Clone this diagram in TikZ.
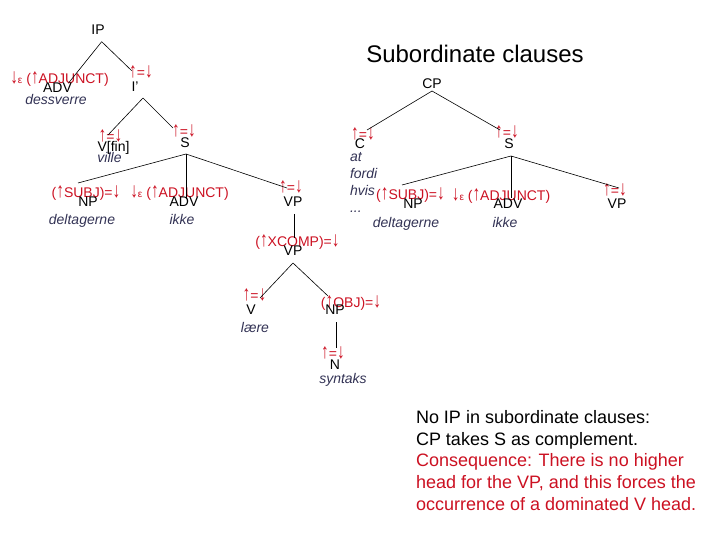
\documentclass[tikz,border=0pt]{standalone}
\usepackage{fontspec}
\usepackage{graphicx}
\setmainfont{Liberation Sans}
\usetikzlibrary{calc}
\definecolor{annred}{RGB}{204,17,34}
\definecolor{wordblue}{RGB}{51,51,85}
\newcommand\smeps{{\fontsize{10}{10}\selectfont ε}}
\newcommand\upa{\scalebox{1.1}[1.5]{↑}}
\newcommand\dna{\scalebox{1.1}[1.5]{↓}}
\begin{document}
\begin{tikzpicture}[x=1pt,y=-1pt,
  every node/.style={inner sep=0pt,outer sep=0pt},
  cat/.style={font=\fontsize{14}{14}\selectfont, text height=10pt, text depth=0pt},
  ann/.style={font=\fontsize{14}{14}\selectfont, text=annred, text height=10pt, text depth=0pt},
  word/.style={font=\fontsize{14}{14}\selectfont\itshape, text=wordblue, text height=10pt, text depth=0pt},
  edge/.style={draw=black, line width=0.6pt}]
\useasboundingbox[fill=white] (0,0) rectangle (720,540);

% ---------- left tree ----------
\node[cat] (IP) at (98,30) {IP};
\node[ann] (aADV1) at (59.5,79) {\dna\smeps\ (\upa ADJUNCT)};
\node[cat] (ADV1) at (57.5,88) {ADV};
\node[word] (wdess) at (56,100) {dessverre};
\node[ann] (aIbar) at (141,73) {\upa=\dna};
\node[cat] (Ibar) at (135,87) {I'};
\node[ann] (aVfin) at (110.5,137) {\upa=\dna};
\node[cat] (Vfin) at (113.5,147) {V[fin]};
\node[word] (wville) at (109.5,158) {ville};
\node[ann] (aS1) at (184,132) {\upa=\dna};
\node[cat] (S1) at (185,143) {S};
\node[ann] (aSUBJ1) at (86,193) {(\upa SUBJ)=\dna};
\node[cat] (NP1) at (88,202) {NP};
\node[word] (wdelt1) at (82,220) {deltagerne};
\node[ann] (aADV2) at (179.5,193) {\dna\smeps\ (\upa ADJUNCT)};
\node[cat] (ADV2) at (184,202) {ADV};
\node[word] (wikke1) at (182,220) {ikke};
\node[ann] (aVP1) at (291,188) {\upa=\dna};
\node[cat] (VP1) at (293,202) {VP};
\node[ann] (aXCOMP) at (297.5,242) {(\upa XCOMP)=\dna};
\node[cat] (VP2) at (293,250) {VP};
\node[ann] (aV) at (254.5,295) {\upa=\dna};
\node[cat] (V) at (251,309) {V};
\node[word] (wlaere) at (255,327) {lære};
\node[ann] (aOBJ) at (351,302) {(\upa OBJ)=\dna};
\node[cat] (NP2) at (335,309) {NP};
\node[ann] (aN) at (333,353) {\upa=\dna};
\node[cat] (N) at (335,364) {N};
\node[word] (wsyn) at (343,378) {syntaks};

% ---------- right tree ----------
\node[font=\fontsize{24}{24}\selectfont, text height=17.2pt, text depth=0pt] (title) at (475,54) {Subordinate clauses};
\node[cat] (CP) at (432,84) {CP};
\node[ann] (aC) at (363,135) {\upa=\dna};
\node[cat] (C) at (360,144) {C};
\node[word, anchor=west] (wat) at (350,157) {at};
\node[word, anchor=west] (wfordi) at (350,174) {fordi};
\node[word, anchor=west] (whvis) at (350,191) {hvis};
\node[word, anchor=west] (wdots) at (350,208) {...};
\node[ann] (aS2) at (507,133) {\upa=\dna};
\node[cat] (S2) at (509,144) {S};
\node[ann] (aSUBJ2) at (410.5,195) {(\upa SUBJ)=\dna};
\node[cat] (NP3) at (413,204) {NP};
\node[word] (wdelt2) at (406,223) {deltagerne};
\node[ann] (aADV3) at (501,196) {\dna\smeps\ (\upa ADJUNCT)};
\node[cat] (ADV3) at (508,204) {ADV};
\node[word] (wikke2) at (505,223) {ikke};
\node[ann] (aVP3) at (615,191) {\upa=\dna};
\node[cat] (VP3) at (617,204) {VP};

% ---------- text block ----------
\node[anchor=north west, align=left, font=\fontsize{18}{21.7}\selectfont] (note) at (416,410.5)
  {No IP in subordinate clauses:\\
   CP takes S as complement.\\
   \textcolor{annred}{Consequence: There is no higher}\\
   \textcolor{annred}{head for the VP, and this forces the}\\
   \textcolor{annred}{occurrence of a dominated V head.}};

% ---------- connectors ----------
\draw[edge] ($(IP)+(3.7,11.7)$) -- ($(ADV1)+(10.8,-4.7)$);
\draw[edge] ($(IP)+(3.7,11.7)$) -- ($(Ibar)+(-3.3,-16.3)$);
\draw[edge] ($(Ibar)+(8,11)$) -- ($(Vfin)+(-5.5,-12)$);
\draw[edge] ($(Ibar)+(8,11)$) -- ($(S1)+(-12,-15)$);
\draw[edge] ($(S1)+(1,11)$) -- ($(NP1)+(-10,-19)$);
\draw[edge] ($(S1)+(1,11)$) -- ($(ADV2)+(2,-3)$);
\draw[edge] ($(S1)+(1,11)$) -- ($(VP1)+(-6,-14)$);
\draw[edge] ($(VP1)+(1,12)$) -- ($(VP2)+(1,-12)$);
\draw[edge] ($(VP2)+(0,13)$) -- ($(V)+(9,-11)$);
\draw[edge] ($(VP2)+(0,13)$) -- ($(NP2)+(-7,-13)$);
\draw[edge] ($(NP2)+(1,13)$) -- ($(N)+(1,-16)$);
\draw[edge] ($(CP)+(0,7)$) -- ($(C)+(7,-14)$);
\draw[edge] ($(CP)+(0,7)$) -- ($(S2)+(-9,-14)$);
\draw[edge] ($(S2)+(2,12)$) -- ($(NP3)+(-11,-19)$);
\draw[edge] ($(S2)+(2,12)$) -- ($(ADV3)+(3,-6)$);
\draw[edge] ($(S2)+(2,12)$) -- ($(VP3)+(2,-16)$);
\end{tikzpicture}
\end{document}
